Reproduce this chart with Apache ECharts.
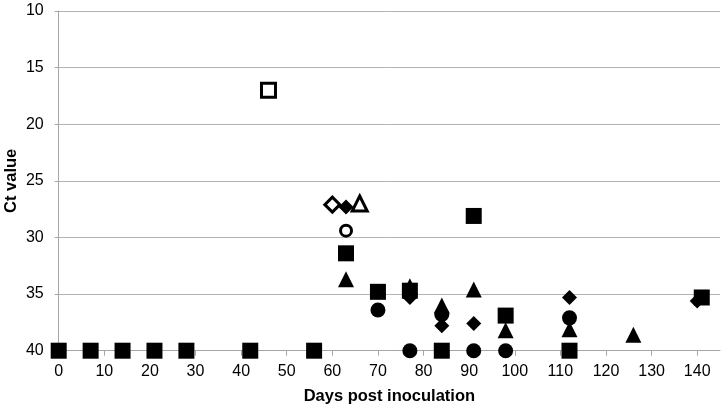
<!DOCTYPE html>
<html>
<head>
<meta charset="utf-8">
<script src="https://cdn.jsdelivr.net/npm/echarts@6/dist/echarts.min.js"></script>
<style>html,body{margin:0;padding:0;background:#fff}#c{width:725px;height:409px}</style>
</head>
<body>
<div id="c"></div>
<script>
const xTicks = [0,10,20,30,40,50,60,70,80,90,100,110,120,130,140];
const yTicks = [10,15,20,25,30,35,40];

const squareFilled = [[0,40],[7,40],[14,40],[21,40],[28,40],[42,40],[56,40],[63,31.4],[70,34.8],[77,34.7],[84,40],[91,28.1],[98,36.9],[112,40],[141,35.3]];
const squareOpen = [[46,17.0]];
const diamondFilled = [[63,27.3],[77,35.3],[84,37.8],[91,37.6],[112,35.3],[140,35.6]];
const diamondOpen = [[60,27.1]];
const triangleFilled = [[63,33.7],[77,34.3],[84,36.0],[91,34.6],[98,38.2],[112,38.1],[126,38.6]];
const triangleOpen = [[66,27.0]];
const circleFilled = [[70,36.4],[77,40],[84,36.8],[91,40],[98,40],[112,37.1]];
const circleOpen = [[63,29.4]];

function filled(data, symbol, size) {
  return { type: 'scatter', data, symbol, symbolSize: size, itemStyle: { color: '#000', opacity: 1 }, z: 3 };
}
function open(data, symbol, size) {
  return { type: 'scatter', data, symbol, symbolSize: size, itemStyle: { color: '#fff', borderColor: '#000', borderWidth: 3, opacity: 1 }, z: 4 };
}

const font = 'Liberation Sans, Arial, sans-serif';
const chart = echarts.init(document.getElementById('c'), null, { renderer: 'canvas' });
chart.setOption({
  animation: false,
  backgroundColor: '#fff',
  grid: { left: 58.7, right: 5, top: 11, bottom: 58.3, outerBoundsMode: 'none', containLabel: false },
  xAxis: {
    type: 'value', min: 0, max: 145, interval: 10,
    name: 'Days post inoculation', nameLocation: 'middle', nameGap: 37, nameMoveOverlap: false,
    nameTextStyle: { fontFamily: font, fontWeight: 'bold', fontSize: 16.5, color: '#000' },
    axisLine: { lineStyle: { color: '#a6a6a6', width: 1 } },
    axisTick: { show: true, length: 5, lineStyle: { color: '#a6a6a6' }, customValues: xTicks },
    axisLabel: { customValues: xTicks, fontFamily: font, fontSize: 16, color: '#000', margin: 13 },
    splitLine: { show: false }
  },
  yAxis: {
    type: 'value', min: 10, max: 40, interval: 5, inverse: true,
    name: 'Ct value', nameLocation: 'middle', nameGap: 39, nameRotate: 90, nameMoveOverlap: false,
    nameTextStyle: { fontFamily: font, fontWeight: 'bold', fontSize: 16.5, color: '#000' },
    axisLine: { show: true, lineStyle: { color: '#a6a6a6', width: 1 } },
    axisTick: { show: true, length: 4, lineStyle: { color: '#a6a6a6' } },
    axisLabel: { customValues: yTicks, fontFamily: font, fontSize: 16, color: '#000', margin: 15 },
    splitLine: { show: true, lineStyle: { color: '#b3b3b3', width: 1 } }
  },
  series: [
    filled(squareFilled, 'rect', 16),
    filled(circleFilled, 'circle', 15),
    filled(triangleFilled, 'triangle', 16),
    filled(diamondFilled, 'diamond', 15),
    open(squareOpen, 'rect', 14),
    open(diamondOpen, 'diamond', 15),
    open(triangleOpen, 'triangle', 15),
    open(circleOpen, 'circle', 11)
  ]
});
</script>
</body>
</html>
